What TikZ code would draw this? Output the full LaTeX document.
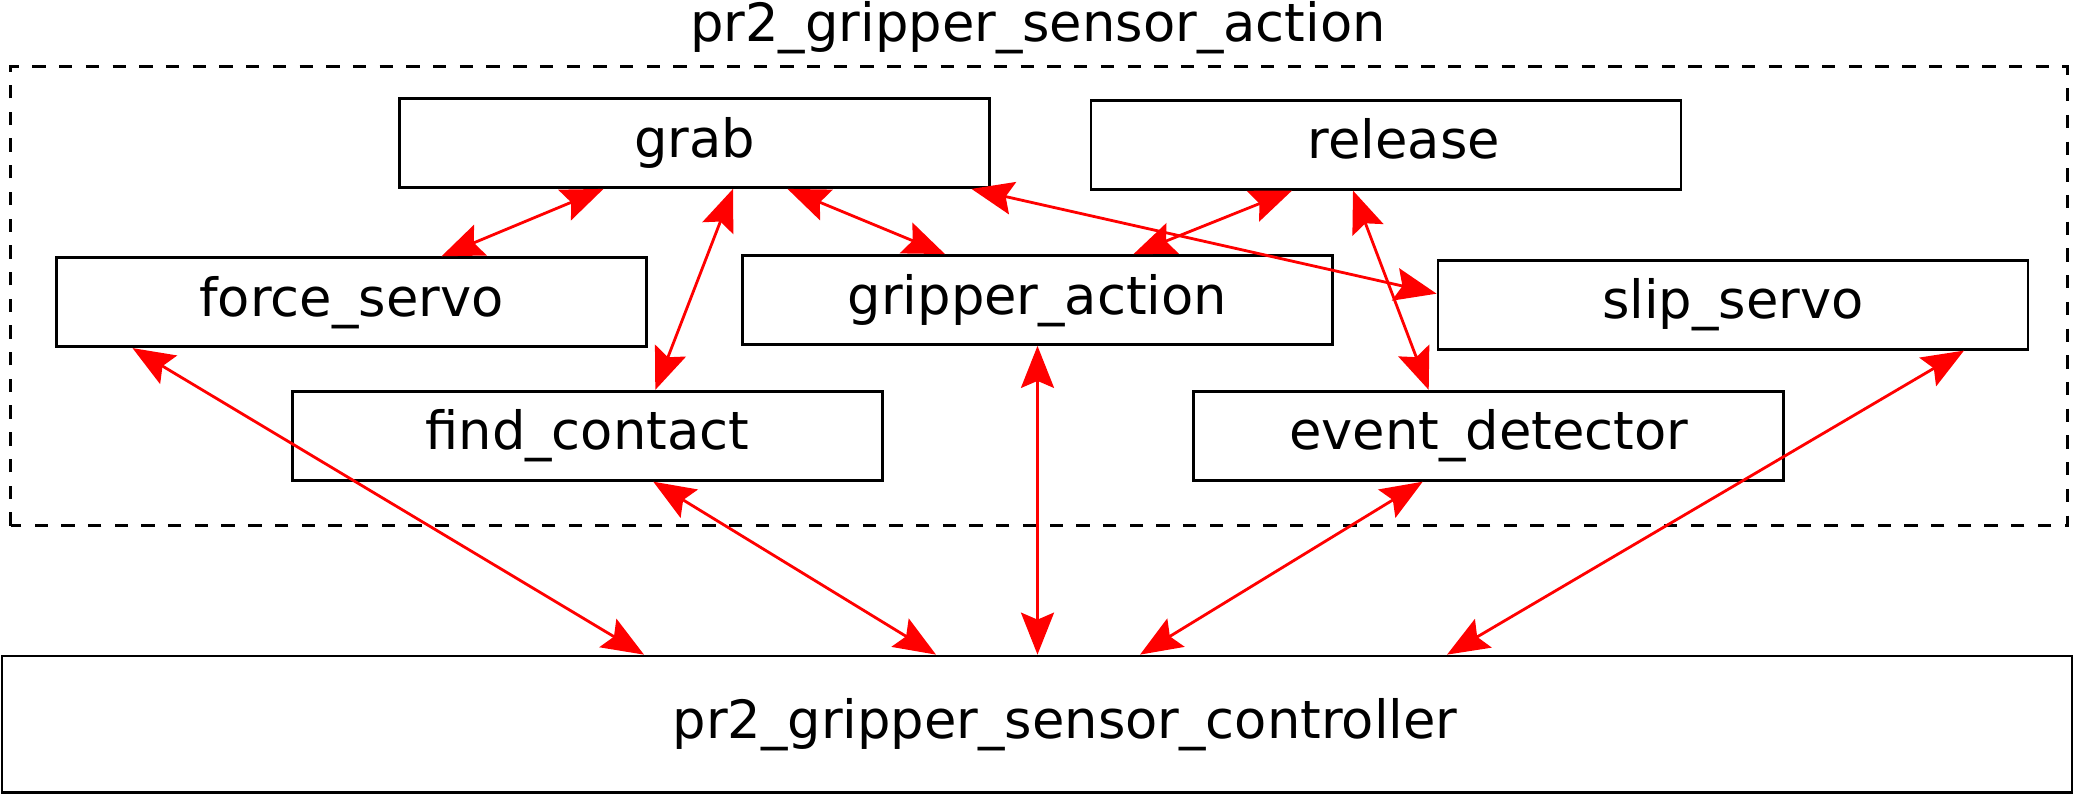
\documentclass[tikz,border=0pt]{standalone}
\usepackage{fontspec}
\setmainfont{DejaVu Sans}
\usetikzlibrary{arrows.meta}

\begin{document}
\begin{tikzpicture}[
  font=\fontsize{15}{18}\selectfont,
  box/.style={draw, line width=0.8pt, minimum width=5.9cm, minimum height=0.89cm,
    text height=0.95em, text depth=0.15em, inner sep=0pt},
  tip/.tip={Stealth[length=4.2mm,width=3.3mm,inset=0.7mm]},
  link/.style={draw=red, line width=0.8pt, tip-tip}
]
  \useasboundingbox (0,0) rectangle (20.75,7.94);
  % package frame
  \node[anchor=base] (title) at (10.38,7.523) {pr2\_gripper\_sensor\_action};
  \draw[line width=0.8pt, dash pattern=on 3.8pt off 3.8pt] (0.106,2.683) rectangle (20.677,7.273);
  % actions
  \node[box] (grab)    at (6.945,6.51)  {grab};
  \node[box] (release) at (13.86,6.493) {\hspace*{0.36cm}release};
  % servos
  \node[box] (forceservo)    at (3.515,4.918) {force\_servo};
  \node[box] (gripperaction) at (10.375,4.94) {gripper\_action};
  \node[box] (slipservo)     at (17.33,4.893) {slip\_servo};
  \node[box] (findcontact)   at (5.873,3.582) {find\_contact};
  \node[box] (eventdetector) at (14.887,3.582) {event\_detector};
  % controller
  \node[box, minimum width=20.7cm, minimum height=1.367cm] (controller) at (10.37,0.696)
    {\hspace*{0.56cm}pr2\_gripper\_sensor\_controller};
  % links inside the package
  \draw[link] ([xshift=-0.91cm]grab.south) -- ([xshift=0.9cm]forceservo.north);
  \draw[link] ([xshift=0.385cm]grab.south) -- ([xshift=0.68cm]findcontact.north);
  \draw[link] ([xshift=0.93cm]grab.south) -- ([xshift=-0.925cm]gripperaction.north);
  \draw[link] ([xshift=2.77cm]grab.south) -- ([yshift=0.11cm]slipservo.west);
  \draw[link] ([xshift=-0.94cm]release.south) -- ([xshift=0.96cm]gripperaction.north);
  \draw[link] ([xshift=-0.33cm]release.south) -- ([xshift=-0.6cm]eventdetector.north);
  % links to the controller
  \draw[link] ([xshift=-2.19cm]forceservo.south) -- ([xshift=-3.93cm]controller.north);
  \draw[link] ([xshift=0.66cm]findcontact.south) -- ([xshift=-1.01cm]controller.north);
  \draw[link] (gripperaction.south) -- (gripperaction.south |- controller.north);
  \draw[link] ([xshift=-0.66cm]eventdetector.south) -- ([xshift=1.03cm]controller.north);
  \draw[link] ([xshift=2.31cm]slipservo.south) -- ([xshift=4.1cm]controller.north);
\end{tikzpicture}
\end{document}
